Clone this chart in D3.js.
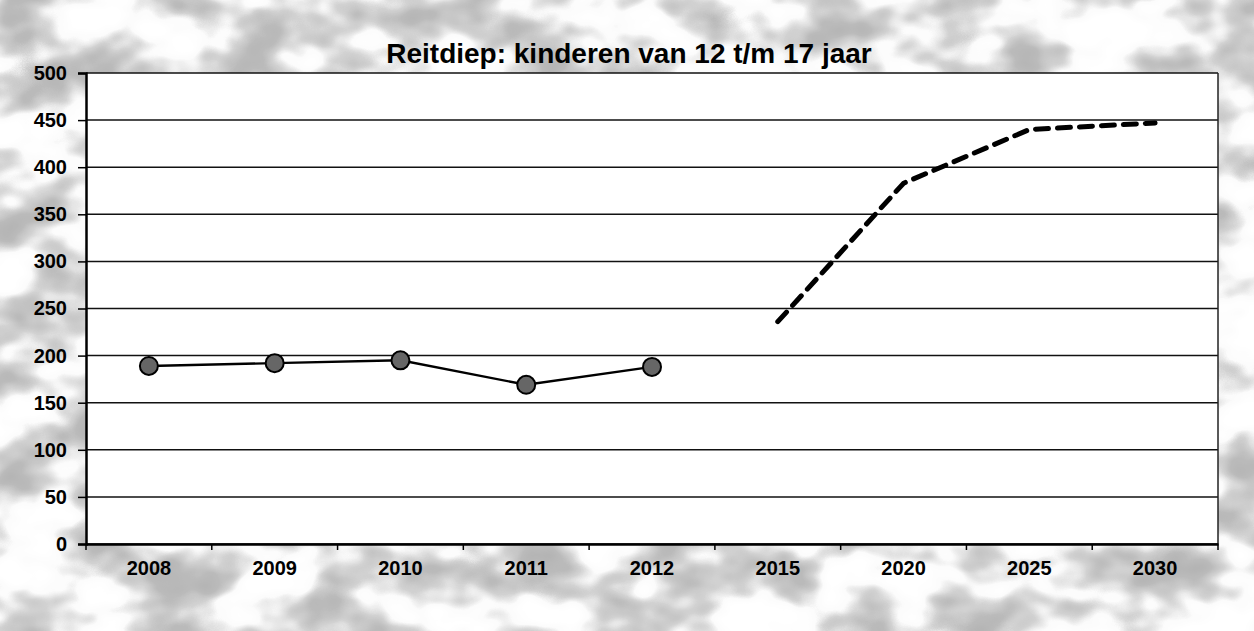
<!DOCTYPE html>
<html>
<head>
  <meta charset="utf-8">
  <title>Reitdiep: kinderen van 12 t/m 17 jaar</title>
  <script src="https://d3js.org/d3.v7.min.js"></script>
  <style>
    body { margin: 0; background: #fff; }
    svg { display: block; font-family: "Liberation Sans", Arial, sans-serif; }
  </style>
</head>
<body>
  <svg width="1254" height="631"></svg>

  <script>
    const years = ["2008", "2009", "2010", "2011", "2012", "2015", "2020", "2025", "2030"];
    const actualYears = ["2008", "2009", "2010", "2011", "2012"];
    const actualValues = [189, 192, 195, 169, 188];
    const forecastYears = ["2015", "2020", "2025", "2030"];
    const forecastValues = [236, 383, 440, 447];
    const yTicks = [0, 50, 100, 150, 200, 250, 300, 350, 400, 450, 500];

    const width = 1254, height = 631;
    const margin = { top: 73, right: 36, bottom: 87, left: 86 };
    const svg = d3.select("svg");
    const font = "Liberation Sans, Arial, sans-serif";

    // blotchy scanned background
    const defs = svg.append("defs");
    const f = defs.append("filter").attr("id", "blotch")
      .attr("x", 0).attr("y", 0).attr("width", "100%").attr("height", "100%");
    f.append("feTurbulence").attr("type", "fractalNoise")
      .attr("baseFrequency", "0.014 0.02").attr("numOctaves", 3).attr("seed", 11);
    f.append("feColorMatrix").attr("type", "matrix")
      .attr("values", "0 0 0 0 0.45  0 0 0 0 0.45  0 0 0 0 0.45  1 0 0 0 0");
    f.append("feComponentTransfer").append("feFuncA")
      .attr("type", "table").attr("tableValues", "0 0 0 0.05 0.6 0.9 1 1");
    svg.append("rect").attr("width", width).attr("height", height).attr("fill", "#fff");
    svg.append("rect").attr("width", width).attr("height", height).attr("filter", "url(#blotch)");

    const x = d3.scaleBand().domain(years)
      .range([margin.left, width - margin.right]);
    const y = d3.scaleLinear().domain([0, 500])
      .range([height - margin.bottom, margin.top]);

    // plot area
    svg.append("rect")
      .attr("x", margin.left).attr("y", margin.top)
      .attr("width", width - margin.left - margin.right)
      .attr("height", height - margin.top - margin.bottom)
      .attr("fill", "#fff");

    // gridlines
    svg.append("g").selectAll("line").data(yTicks).join("line")
      .attr("x1", margin.left).attr("x2", width - margin.right)
      .attr("y1", d => y(d)).attr("y2", d => y(d))
      .attr("stroke", "#111").attr("stroke-width", 1.5);

    // right border
    svg.append("line")
      .attr("x1", width - margin.right).attr("x2", width - margin.right)
      .attr("y1", margin.top).attr("y2", height - margin.bottom)
      .attr("stroke", "#222").attr("stroke-width", 1.5);

    // y axis
    const yAxis = svg.append("g")
      .attr("transform", `translate(${margin.left},0)`)
      .call(d3.axisLeft(y).tickValues(yTicks).tickSize(8).tickPadding(11));
    yAxis.select(".domain").attr("stroke", "#000").attr("stroke-width", 2.5);
    yAxis.selectAll(".tick line").attr("stroke-width", 1.5);
    yAxis.selectAll("text").attr("font-size", 20).attr("font-weight", "bold")
      .attr("fill", "#000").attr("font-family", font);

    // x axis
    const xAxis = svg.append("g")
      .attr("transform", `translate(0,${height - margin.bottom})`)
      .call(d3.axisBottom(x).tickSize(0).tickPadding(17));
    xAxis.select(".domain").attr("stroke", "#000").attr("stroke-width", 2.5);
    xAxis.selectAll("text").attr("font-size", 20).attr("font-weight", "bold")
      .attr("fill", "#000").attr("font-family", font);
    xAxis.append("g").selectAll("line").data(years.concat(["end"])).join("line")
      .attr("x1", (d, i) => margin.left + i * x.step())
      .attr("x2", (d, i) => margin.left + i * x.step())
      .attr("y1", 0).attr("y2", 6)
      .attr("stroke", "#000").attr("stroke-width", 1.5);

    const cx = d => x(d) + x.bandwidth() / 2;

    // actual series
    const actual = actualYears.map((d, i) => ({ year: d, value: actualValues[i] }));
    svg.append("path").datum(actual)
      .attr("fill", "none").attr("stroke", "#000").attr("stroke-width", 2.4)
      .attr("d", d3.line().x(d => cx(d.year)).y(d => y(d.value)));
    svg.append("g").selectAll("circle").data(actual).join("circle")
      .attr("cx", d => cx(d.year)).attr("cy", d => y(d.value))
      .attr("r", 9)
      .attr("fill", "#666").attr("stroke", "#000").attr("stroke-width", 2);

    // forecast series
    const forecast = forecastYears.map((d, i) => ({ year: d, value: forecastValues[i] }));
    svg.append("path").datum(forecast)
      .attr("fill", "none").attr("stroke", "#000").attr("stroke-width", 5)
      .attr("stroke-dasharray", "13 9").attr("stroke-linecap", "round")
      .attr("d", d3.line().x(d => cx(d.year)).y(d => y(d.value)));

    // title
    svg.append("text")
      .attr("x", 629).attr("y", 63)
      .attr("text-anchor", "middle")
      .attr("font-size", 28).attr("font-weight", "bold")
      .attr("font-family", font)
      .text("Reitdiep: kinderen van 12 t/m 17 jaar");
  </script>
</body>
</html>
